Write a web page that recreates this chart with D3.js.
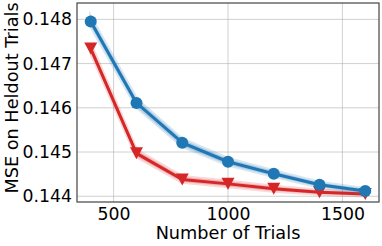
<!DOCTYPE html>
<html>
<head>
<meta charset="utf-8">
<script src="https://cdn.jsdelivr.net/npm/d3@7"></script>
<style>
  body { margin: 0; background: #fff; }
  text { font-family: "DejaVu Sans", sans-serif; }
</style>
</head>
<body>
<div id="chart"></div>
<script>
const width = 382;
const height = 246;

// data
const trials = [400, 600, 800, 1000, 1200, 1400, 1600];
const mseBlue = [0.14795, 0.14611, 0.14521, 0.14478, 0.14451, 0.14426, 0.14412];
const errBlue = [0.00010, 0.00009, 0.00008, 0.00007, 0.00006, 0.00005, 0.00005];
const mseRed = [0.14734, 0.14497, 0.14438, 0.14428, 0.14417, 0.14409, 0.14405];
const errRed = [0.00009, 0.00007, 0.00006, 0.00006, 0.00005, 0.00004, 0.00004];
const xTicks = [500, 1000, 1500];
const yTicks = [0.144, 0.145, 0.146, 0.147, 0.148];

const margin = {top: 3, right: 3, bottom: 44, left: 77};

const svg = d3.select("#chart").append("svg")
    .attr("width", width)
    .attr("height", height);

const x = d3.scaleLinear().domain([340, 1660]).range([margin.left, width - margin.right]);
const y = d3.scaleLinear().domain([0.14387, 0.14837]).range([height - margin.bottom, margin.top]);

// grid
svg.append("g")
    .attr("stroke", "#b0b0b0")
    .attr("stroke-opacity", 0.6)
    .attr("stroke-width", 1)
  .selectAll("line.gx")
  .data(xTicks)
  .join("line")
    .attr("x1", d => x(d)).attr("x2", d => x(d))
    .attr("y1", margin.top).attr("y2", height - margin.bottom);

svg.append("g")
    .attr("stroke", "#b0b0b0")
    .attr("stroke-opacity", 0.6)
    .attr("stroke-width", 1)
  .selectAll("line.gy")
  .data(yTicks)
  .join("line")
    .attr("y1", d => y(d)).attr("y2", d => y(d))
    .attr("x1", margin.left).attr("x2", width - margin.right);

const series = [
  {name: "blue", mean: mseBlue, err: errBlue, color: "#1f77b4", marker: "circle"},
  {name: "red", mean: mseRed, err: errRed, color: "#d62728", marker: "tri"}
];

const area = d3.area()
    .x(d => x(d.t))
    .y0(d => y(d.m - d.e))
    .y1(d => y(d.m + d.e));

const line = d3.line()
    .x(d => x(d.t))
    .y(d => y(d.m));

// draw red first so blue ends on top
series.slice().reverse().forEach(s => {
  const pts = trials.map((t, i) => ({t: t, m: s.mean[i], e: s.err[i]}));
  const g = svg.append("g");
  g.append("path")
      .datum(pts)
      .attr("d", area)
      .attr("fill", s.color)
      .attr("fill-opacity", 0.22)
      .attr("stroke", s.color)
      .attr("stroke-opacity", 0.18)
      .attr("stroke-width", 3.5);
  g.append("path")
      .datum(pts)
      .attr("d", line)
      .attr("fill", "none")
      .attr("stroke", s.color)
      .attr("stroke-width", 3)
      .attr("stroke-linejoin", "round");
  if (s.marker === "circle") {
    g.selectAll("circle")
      .data(pts)
      .join("circle")
        .attr("cx", d => x(d.t))
        .attr("cy", d => y(d.m))
        .attr("r", 6)
        .attr("fill", s.color);
  } else {
    g.selectAll("path.tri")
      .data(pts)
      .join("path")
        .attr("class", "tri")
        .attr("transform", d => "translate(" + x(d.t) + "," + y(d.m) + ")")
        .attr("d", "M-6.5,-6L6.5,-6L0,6Z")
        .attr("fill", s.color);
  }
});

// frame
svg.append("rect")
    .attr("x", margin.left)
    .attr("y", margin.top)
    .attr("width", width - margin.left - margin.right)
    .attr("height", height - margin.top - margin.bottom)
    .attr("fill", "none")
    .attr("stroke", "#444")
    .attr("stroke-width", 1.2);

// axes
const xAxis = svg.append("g")
    .attr("transform", "translate(0," + (height - margin.bottom) + ")")
    .call(d3.axisBottom(x).tickValues(xTicks).tickFormat(d3.format("d")).tickSize(0).tickPadding(6));
xAxis.select(".domain").remove();
xAxis.selectAll("text").attr("font-size", 17.3).attr("fill", "#000").attr("font-family", "DejaVu Sans");

const yAxis = svg.append("g")
    .attr("transform", "translate(" + margin.left + ",0)")
    .call(d3.axisLeft(y).tickValues(yTicks).tickFormat(d3.format(".3f")).tickSize(0).tickPadding(5));
yAxis.select(".domain").remove();
yAxis.selectAll("text").attr("font-size", 17.3).attr("fill", "#000").attr("font-family", "DejaVu Sans");

svg.append("text")
    .attr("x", (margin.left + width - margin.right) / 2)
    .attr("y", 238.5)
    .attr("text-anchor", "middle")
    .attr("font-size", 17.7)
    .text("Number of Trials");

svg.append("text")
    .attr("transform", "translate(18," + 98 + ") rotate(-90)")
    .attr("text-anchor", "middle")
    .attr("font-size", 17.7)
    .text("MSE on Heldout Trials");
</script>
</body>
</html>
